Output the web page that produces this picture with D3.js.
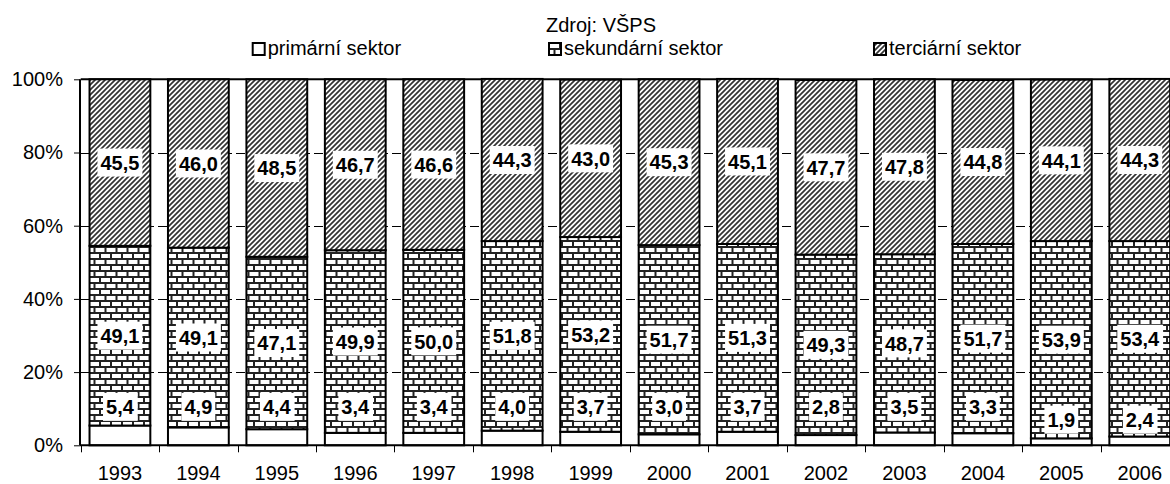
<!DOCTYPE html>
<html>
<head>
<meta charset="utf-8">
<script src="https://cdnjs.cloudflare.com/ajax/libs/d3/7.8.5/d3.min.js"></script>
<style>
  body { margin: 0; background: #fff; }
  svg { display: block; font-family: "Liberation Sans", Arial, sans-serif; }
</style>
</head>
<body>
<svg id="chart" width="1170" height="484"></svg>
<script>
// data (share of employment by sector, %)
var years = ['1993','1994','1995','1996','1997','1998','1999','2000','2001','2002','2003','2004','2005','2006'];
var primary   = [5.4, 4.9, 4.4, 3.4, 3.4, 4.0, 3.7, 3.0, 3.7, 2.8, 3.5, 3.3, 1.9, 2.4];
var secondary = [49.1, 49.1, 47.1, 49.9, 50.0, 51.8, 53.2, 51.7, 51.3, 49.3, 48.7, 51.7, 53.9, 53.4];
var tertiary  = [45.5, 46.0, 48.5, 46.7, 46.6, 44.3, 43.0, 45.3, 45.1, 47.7, 47.8, 44.8, 44.1, 44.3];
var yTicks = [0, 20, 40, 60, 80, 100];
var seriesNames = ['primární sektor', 'sekundární sektor', 'terciární sektor'];

var svg = d3.select('#chart');

var plotLeft = 80.7, plotRight = 1179, plotTop = 79.3, plotBottom = 445.3;

// patterns
var defs = svg.append('defs');
var brick = defs.append('pattern')
  .attr('id', 'brick')
  .attr('patternUnits', 'userSpaceOnUse')
  .attr('width', 11).attr('height', 12);
brick.append('rect').attr('width', 11).attr('height', 12).attr('fill', '#fff');
brick.append('path')
  .attr('d', 'M0,1 H11 M0,7 H11 M1,1 V7 M6.5,7 V13')
  .attr('stroke', '#222')
  .attr('stroke-width', 2)
  .attr('fill', 'none');

var hatch = defs.append('pattern')
  .attr('id', 'hatch')
  .attr('patternUnits', 'userSpaceOnUse')
  .attr('width', 5).attr('height', 5);
hatch.append('rect').attr('width', 5).attr('height', 5).attr('fill', '#fff');
hatch.append('path')
  .attr('d', 'M0,5 L5,0 M-1.5,1.5 L1.5,-1.5 M3.5,6.5 L6.5,3.5')
  .attr('stroke', '#333')
  .attr('stroke-width', 1.7);

var fills = ['#fff', 'url(#brick)', 'url(#hatch)'];

var x = d3.scaleBand()
  .domain(years)
  .range([plotLeft, plotRight])
  .paddingInner(0.225)
  .paddingOuter(0.1125);

var y = d3.scaleLinear()
  .domain([0, 100])
  .range([plotBottom, plotTop]);

// gridlines (dashed, visible between bars)
svg.append('g')
  .selectAll('line')
  .data(yTicks.filter(function(d){ return d > 0 && d < 100; }))
  .enter().append('line')
  .attr('x1', 80).attr('x2', plotRight)
  .attr('y1', function(d){ return Math.round(y(d)) + 0.5; })
  .attr('y2', function(d){ return Math.round(y(d)) + 0.5; })
  .attr('stroke', '#000')
  .attr('stroke-width', 1)
  .attr('stroke-dasharray', '9,4');

svg.append('line')
  .attr('x1', plotLeft).attr('x2', plotRight)
  .attr('y1', y(100)).attr('y2', y(100))
  .attr('stroke', '#000').attr('stroke-width', 2);

// stacked data
var rows = years.map(function(yr, i){
  return { year: yr, values: [primary[i], secondary[i], tertiary[i]] };
});

var bars = svg.append('g').selectAll('g')
  .data(rows)
  .enter().append('g');

bars.each(function(d){
  var g = d3.select(this);
  var acc = 0;
  d.values.forEach(function(v, k){
    var y0 = acc, y1 = acc + v;
    acc = y1;
    g.append('rect')
      .attr('x', x(d.year))
      .attr('width', x.bandwidth())
      .attr('y', y(y1))
      .attr('height', y(y0) - y(y1))
      .attr('fill', fills[k])
      .attr('stroke', '#000')
      .attr('stroke-width', 2);
  });
});

// value labels
function fmt(v){ return v.toFixed(1).replace('.', ','); }

bars.each(function(d){
  var g = d3.select(this);
  var cx = x(d.year) + x.bandwidth() / 2;
  var p = d.values[0], s = d.values[1], t = d.values[2];
  var pos = [
    p < 2.5 ? 7 : 10.5,
    p + s / 2,
    p + s + t / 2
  ];
  d.values.forEach(function(v, k){
    var lg = g.append('g');
    var txt = lg.append('text')
      .attr('x', cx)
      .attr('y', y(pos[k]))
      .attr('dy', '0.36em')
      .attr('text-anchor', 'middle')
      .attr('font-size', 20)
      .attr('font-weight', 'bold')
      .text(fmt(v));
    var bb = txt.node().getBBox();
    lg.insert('rect', 'text')
      .attr('x', bb.x - 3)
      .attr('y', y(pos[k]) - 14)
      .attr('width', bb.width + 6)
      .attr('height', 28)
      .attr('fill', '#fff');
  });
});

// axes
var yAxis = d3.axisLeft(y)
  .tickValues(yTicks)
  .tickSize(6)
  .tickFormat(function(d){ return d + '%'; });

var ya = svg.append('g')
  .attr('transform', 'translate(' + 80 + ',0)')
  .call(yAxis);
ya.select('.domain').attr('stroke-width', 2).attr('d', 'M0,' + y(0) + 'V' + y(100));
ya.selectAll('.tick line').attr('stroke-width', 1);
ya.selectAll('.tick text')
  .attr('x', -17)
  .attr('font-size', 20)
  .attr('font-family', '"Liberation Sans", Arial, sans-serif')
  .attr('fill', '#000');

// x axis
var xa = svg.append('g');
xa.append('line')
  .attr('x1', 80).attr('x2', plotRight)
  .attr('y1', plotBottom).attr('y2', plotBottom)
  .attr('stroke', '#000').attr('stroke-width', 2);
xa.selectAll('.xt')
  .data(years)
  .enter().append('line')
  .attr('class', 'xt')
  .attr('x1', function(d){ return Math.round(x(d) - x.step() * 0.1125) + 0.5; })
  .attr('x2', function(d){ return Math.round(x(d) - x.step() * 0.1125) + 0.5; })
  .attr('y1', plotBottom).attr('y2', plotBottom + 7)
  .attr('stroke', '#000').attr('stroke-width', 1);
xa.selectAll('text')
  .data(years)
  .enter().append('text')
  .attr('x', function(d){ return x(d) + x.bandwidth() / 2; })
  .attr('y', 480)
  .attr('text-anchor', 'middle')
  .attr('font-size', 20)
  .text(function(d){ return d; });

// title / source
svg.append('text')
  .attr('x', 601).attr('y', 32)
  .attr('text-anchor', 'middle')
  .attr('font-size', 20)
  .text('Zdroj: VŠPS');

// legend
var legendX = [251.7, 548, 873];
var leg = svg.append('g').selectAll('g')
  .data(seriesNames)
  .enter().append('g')
  .attr('transform', function(d, i){ return 'translate(' + legendX[i] + ',42)'; });
leg.append('rect')
  .attr('x', 1).attr('y', 1)
  .attr('width', 12).attr('height', 12)
  .attr('fill', function(d, i){ return fills[i]; })
  .attr('stroke', '#000')
  .attr('stroke-width', 2);
leg.append('text')
  .attr('x', 16).attr('y', 13)
  .attr('font-size', 20)
  .text(function(d){ return d; });
</script>
</body>
</html>
